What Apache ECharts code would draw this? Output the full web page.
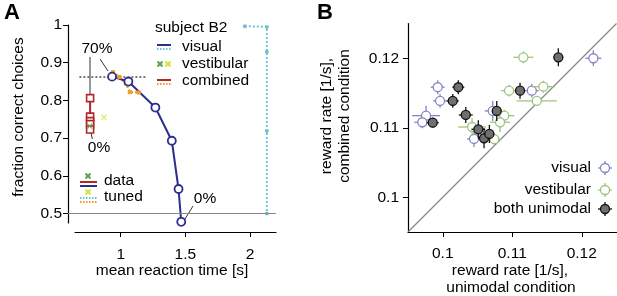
<!DOCTYPE html>
<html>
<head>
<meta charset="utf-8">
<script src="https://cdn.jsdelivr.net/npm/echarts@6/dist/echarts.min.js"></script>
<style>
html, body { margin: 0; padding: 0; background: #fff; }
#chart { width: 617px; height: 296px; }
</style>
</head>
<body>
<div id="chart"></div>
<script>
// ---- panel A: speed / accuracy ----
const visualRT = [0.933, 1.059, 1.268, 1.395, 1.447, 1.468];
const visualPC = [0.863, 0.850, 0.781, 0.693, 0.565, 0.478];
const visualTunedRT = [1.96, 2.13, 2.13, 2.13, 2.13];
const visualTunedPC = [0.997, 0.995, 0.929, 0.719, 0.5];
const combinedRT = [0.763, 0.763, 0.763, 0.763, 0.763];
const combinedPC = [0.806, 0.757, 0.745, 0.737, 0.723];
const combinedTunedRT = [0.94, 0.99, 1.04, 1.07, 1.14];
const combinedTunedPC = [0.875, 0.862, 0.845, 0.822, 0.821];
const vestibularData = [0.760, 0.732];
const vestibularTuned = [0.870, 0.755];
const refLevelX = [0.68, 1.2];
const refLevelY = 0.862;
const chanceLevel = 0.5;
const aYTicks = [0.5, 0.6, 0.7, 0.8, 0.9, 1];
const aXTicks = [1, 1.5, 2];

// ---- panel B: reward rates ----
const visX = [0.09928, 0.09961, 0.09760, 0.09706, 0.10719, 0.10450, 0.11281, 0.12167];
const visY = [0.11583, 0.11386, 0.11174, 0.11079, 0.11242, 0.10839, 0.11534, 0.12000];
const visXErr = [0.0010, 0.0010, 0.0020, 0.00115, 0.00115, 0.0010, 0.0010, 0.00115];
const visYErr = [0.0010, 0.0010, 0.00144, 0.00086, 0.00144, 0.00115, 0.0010, 0.00115];
const vesX = [0.11160, 0.10954, 0.11448, 0.11353, 0.10886, 0.10824, 0.10742, 0.10422];
const vesY = [0.12014, 0.11534, 0.11591, 0.11386, 0.11174, 0.11079, 0.10835, 0.11011];
const vesXErr = [0.00144, 0.00115, 0.0017, 0.0029, 0.00144, 0.00144, 0.0010, 0.0020];
const vesYErr = [0.00086, 0.00086, 0.00086, 0.0007, 0.00086, 0.00144, 0.00086, 0.0013];
const bothX = [0.10224, 0.10144, 0.10331, 0.09856, 0.10777, 0.10512, 0.10594, 0.10671, 0.11112, 0.11663];
const bothY = [0.11583, 0.11386, 0.11184, 0.11073, 0.11242, 0.10978, 0.10849, 0.10911, 0.11534, 0.12014];
const bothXErr = [0.00086, 0.00086, 0.0010, 0.00086, 0.0007, 0.0010, 0.00086, 0.0007, 0.0007, 0.0007];
const bothYErr = [0.0010, 0.0010, 0.00115, 0.0007, 0.00144, 0.0013, 0.00144, 0.0013, 0.00115, 0.0013];
const bTicks = [0.1, 0.11, 0.12];
const bRange = [0.095, 0.125];

const FONT = '"Liberation Sans", Arial, sans-serif';
const FS = 15.5;
const NAVY = '#2b2e8c', CYAN = '#6ec3d3', RED = '#b3262c', ORANGE = '#f0a021';
const GREEN = '#5aa345', YELLOW = '#d6e33a';
const B_VIS = '#8585c6', B_VES = '#9cc47e', B_BOTH = '#6f6f6f';
const CROSS = 'path://M0,1.5L1.5,0L5,3.5L8.5,0L10,1.5L6.5,5L10,8.5L8.5,10L5,6.5L1.5,10L0,8.5L3.5,5Z';

const zip = (a, b) => a.map((v, i) => [v, b[i]]);

const axisText = { color: '#000', fontSize: FS, fontFamily: FONT };
const blackLine = { show: true, lineStyle: { color: '#000', width: 1.2 } };

function errorBars(xs, ys, xe, ye, color, z) {
  return {
    type: 'custom', xAxisIndex: 2, yAxisIndex: 2, z: z, silent: true,
    data: xs.map((x, i) => [x, ys[i], xe[i], ye[i]]),
    encode: { x: 0, y: 1 },
    renderItem: (params, api) => {
      const x = api.value(0), y = api.value(1), dx = api.value(2), dy = api.value(3);
      const l = api.coord([x - dx, y]), r = api.coord([x + dx, y]);
      const t = api.coord([x, y + dy]), b = api.coord([x, y - dy]);
      return {
        type: 'group',
        children: [
          { type: 'line', shape: { x1: l[0], y1: l[1], x2: r[0], y2: r[1] }, style: { stroke: color, lineWidth: 1.3 } },
          { type: 'line', shape: { x1: t[0], y1: t[1], x2: b[0], y2: b[1] }, style: { stroke: color, lineWidth: 1.3 } }
        ]
      };
    }
  };
}

function dots(xs, ys, fill, stroke, z) {
  return {
    type: 'scatter', xAxisIndex: 2, yAxisIndex: 2, z: z, silent: true,
    data: zip(xs, ys), symbol: 'circle', symbolSize: 9,
    itemStyle: { color: fill, borderColor: stroke, borderWidth: 1.3, opacity: 1 }
  };
}

// legend helpers (decoration only)
function txt(x, y, s, opt, rot) {
  return { type: 'text', x: x, y: y, rotation: rot || 0,
    style: Object.assign({ text: s, fill: '#000', font: FS + 'px ' + FONT, verticalAlign: 'middle' }, opt || {}) };
}
function seg(x1, y1, x2, y2, color, dash, w) {
  return { type: 'line', shape: { x1: x1, y1: y1, x2: x2, y2: y2 },
    style: { stroke: color, lineWidth: w || 2, lineDash: dash ? [1.5, 1.5] : null } };
}
function xmark(cx, cy, color) {
  return [seg(cx - 2.5, cy - 2.5, cx + 2.5, cy + 2.5, color, false, 2), seg(cx - 2.5, cy + 2.5, cx + 2.5, cy - 2.5, color, false, 2)];
}
function bMarker(cx, cy, fill, stroke) {
  return [
    seg(cx - 7, cy, cx + 7, cy, stroke, false, 1.3),
    seg(cx, cy - 7, cx, cy + 7, stroke, false, 1.3),
    { type: 'circle', shape: { cx: cx, cy: cy, r: 4.5 }, style: { fill: fill, stroke: stroke, lineWidth: 1.3 } }
  ];
}

const chart = echarts.init(document.getElementById('chart'));
chart.setOption({
  animation: false,
  grid: [
    { left: 68, top: 25, width: 208, height: 198 },
    { left: 75, top: 25, width: 201, height: 207 },
    { left: 408, top: 23.5, width: 208.5, height: 208.5 }
  ],
  xAxis: [
    { gridIndex: 0, type: 'value', min: 0.592, max: 2.201, show: false },
    { gridIndex: 1, type: 'value', min: 0.6466, max: 2.201,
      axisLine: blackLine, splitLine: { show: false },
      axisTick: { show: true, length: 5, lineStyle: { color: '#000' }, customValues: aXTicks },
      axisLabel: Object.assign({ margin: 15, customValues: aXTicks }, axisText) },
    { gridIndex: 2, type: 'value', min: bRange[0], max: bRange[1],
      axisLine: blackLine, splitLine: { show: false },
      axisTick: { show: true, length: 5, lineStyle: { color: '#000' }, customValues: bTicks },
      axisLabel: Object.assign({ margin: 14, customValues: bTicks }, axisText) }
  ],
  yAxis: [
    { gridIndex: 0, type: 'value', min: 0.4748, max: 1,
      axisLine: blackLine, splitLine: { show: false },
      axisTick: { show: true, length: 5, lineStyle: { color: '#000' }, customValues: aYTicks },
      axisLabel: Object.assign({ margin: 6, customValues: aYTicks }, axisText) },
    { gridIndex: 1, type: 'value', show: false },
    { gridIndex: 2, type: 'value', min: bRange[0], max: bRange[1],
      axisLine: blackLine, splitLine: { show: false },
      axisTick: { show: true, length: 5, lineStyle: { color: '#000' }, customValues: bTicks },
      axisLabel: Object.assign({ margin: 9, customValues: bTicks }, axisText) }
  ],
  series: [
    // chance level
    { type: 'line', xAxisIndex: 0, yAxisIndex: 0, data: [], silent: true,
      markLine: { symbol: 'none', silent: true, label: { show: false },
        lineStyle: { color: '#888', type: 'solid', width: 1.2 }, data: [{ yAxis: chanceLevel }] } },
    // reference accuracy level
    { type: 'line', xAxisIndex: 0, yAxisIndex: 0, silent: true, symbol: 'none',
      data: refLevelX.map(x => [x, refLevelY]),
      lineStyle: { color: '#222', width: 1.2, type: [2, 2] } },
    // visual tuned
    { type: 'line', xAxisIndex: 0, yAxisIndex: 0, silent: true, data: zip(visualTunedRT, visualTunedPC),
      symbol: 'circle', symbolSize: 4, itemStyle: { color: CYAN },
      lineStyle: { color: CYAN, width: 2, type: [2, 2] } },
    // combined tuned
    { type: 'line', xAxisIndex: 0, yAxisIndex: 0, silent: true, data: zip(combinedTunedRT, combinedTunedPC),
      symbol: 'rect', symbolSize: 4, itemStyle: { color: ORANGE }, z: 3,
      lineStyle: { color: ORANGE, width: 2.5, type: [2, 2] } },
    // visual data
    { type: 'line', xAxisIndex: 0, yAxisIndex: 0, silent: true, data: zip(visualRT, visualPC), clip: false,
      symbol: 'circle', symbolSize: 8, showAllSymbol: true,
      itemStyle: { color: '#fff', borderColor: NAVY, borderWidth: 1.8 },
      lineStyle: { color: NAVY, width: 2 } },
    // combined data
    { type: 'line', xAxisIndex: 0, yAxisIndex: 0, silent: true, data: zip(combinedRT, combinedPC),
      symbol: 'rect', symbolSize: 7, showAllSymbol: true,
      itemStyle: { color: '#fff', borderColor: RED, borderWidth: 1.6 },
      lineStyle: { color: RED, width: 2 } },
    // vestibular
    { type: 'scatter', xAxisIndex: 0, yAxisIndex: 0, silent: true, data: [vestibularData],
      symbol: CROSS, symbolSize: 6, itemStyle: { color: GREEN }, z: 5 },
    { type: 'scatter', xAxisIndex: 0, yAxisIndex: 0, silent: true, data: [vestibularTuned],
      symbol: CROSS, symbolSize: 6, itemStyle: { color: YELLOW }, z: 5 },

    // panel B
    { type: 'line', xAxisIndex: 2, yAxisIndex: 2, silent: true, symbol: 'none',
      data: [[bRange[0], bRange[0]], [bRange[1], bRange[1]]],
      lineStyle: { color: '#888', width: 1.2 } },
    errorBars(visX, visY, visXErr, visYErr, B_VIS, 3),
    dots(visX, visY, '#fff', B_VIS, 4),
    errorBars(vesX, vesY, vesXErr, vesYErr, B_VES, 5),
    dots(vesX, vesY, '#fff', B_VES, 6),
    errorBars(bothX, bothY, bothXErr, bothYErr, '#111', 7),
    dots(bothX, bothY, B_BOTH, '#111', 8)
  ],
  graphic: [
    txt(4, 13, 'A', { font: 'bold 22px ' + FONT }),
    txt(317, 13, 'B', { font: 'bold 22px ' + FONT }),
    txt(19, 117, 'fraction correct choices', { align: 'center' }, Math.PI / 2),
    txt(172, 271, 'mean reaction time [s]', { align: 'center' }),
    txt(510, 271, 'reward rate [1/s],', { align: 'center' }),
    txt(511, 288, 'unimodal condition', { align: 'center' }),
    // annotations A
    txt(97, 49, '70%', { align: 'center' }),
    seg(90, 57, 90, 96, '#333', false, 1),
    seg(100, 59, 108, 71, '#333', false, 1),
    txt(99, 148, '0%', { align: 'center' }),
    seg(90.7, 131, 92.3, 139, '#333', false, 1),
    txt(205, 199, '0%', { align: 'center' }),
    seg(185, 219, 193, 206, '#333', false, 1),
    // legend A
    txt(155, 28, 'subject B2'),
    seg(157, 45, 171, 45, NAVY, false, 2),
    seg(157, 49, 171, 49, CYAN, true, 2),
    txt(182, 47, 'visual'),
    ...xmark(160, 64, GREEN),
    ...xmark(168, 64, YELLOW),
    txt(182, 64, 'vestibular'),
    seg(157, 80, 171, 80, RED, false, 2),
    seg(157, 84, 171, 84, ORANGE, true, 2),
    txt(182, 81, 'combined'),
    ...xmark(88, 176, GREEN),
    seg(80, 182, 97, 182, RED, false, 2),
    seg(80, 186, 97, 186, NAVY, false, 2),
    txt(104, 181, 'data'),
    ...xmark(88, 192, YELLOW),
    seg(80, 198, 97, 198, CYAN, true, 2),
    seg(80, 202, 97, 202, ORANGE, true, 2),
    txt(104, 197, 'tuned'),
    // legend B
    txt(591, 168, 'visual', { align: 'right' }),
    ...bMarker(605, 168, '#fff', B_VIS),
    txt(591, 190, 'vestibular', { align: 'right' }),
    ...bMarker(605, 190, '#fff', B_VES),
    txt(591, 209, 'both unimodal', { align: 'right' }),
    ...bMarker(605, 209, B_BOTH, '#111'),
    // rotated name B
    txt(336, 116, 'reward rate [1/s],\ncombined condition', { align: 'center', lineHeight: 18 }, Math.PI / 2)
  ]
});
</script>
</body>
</html>
